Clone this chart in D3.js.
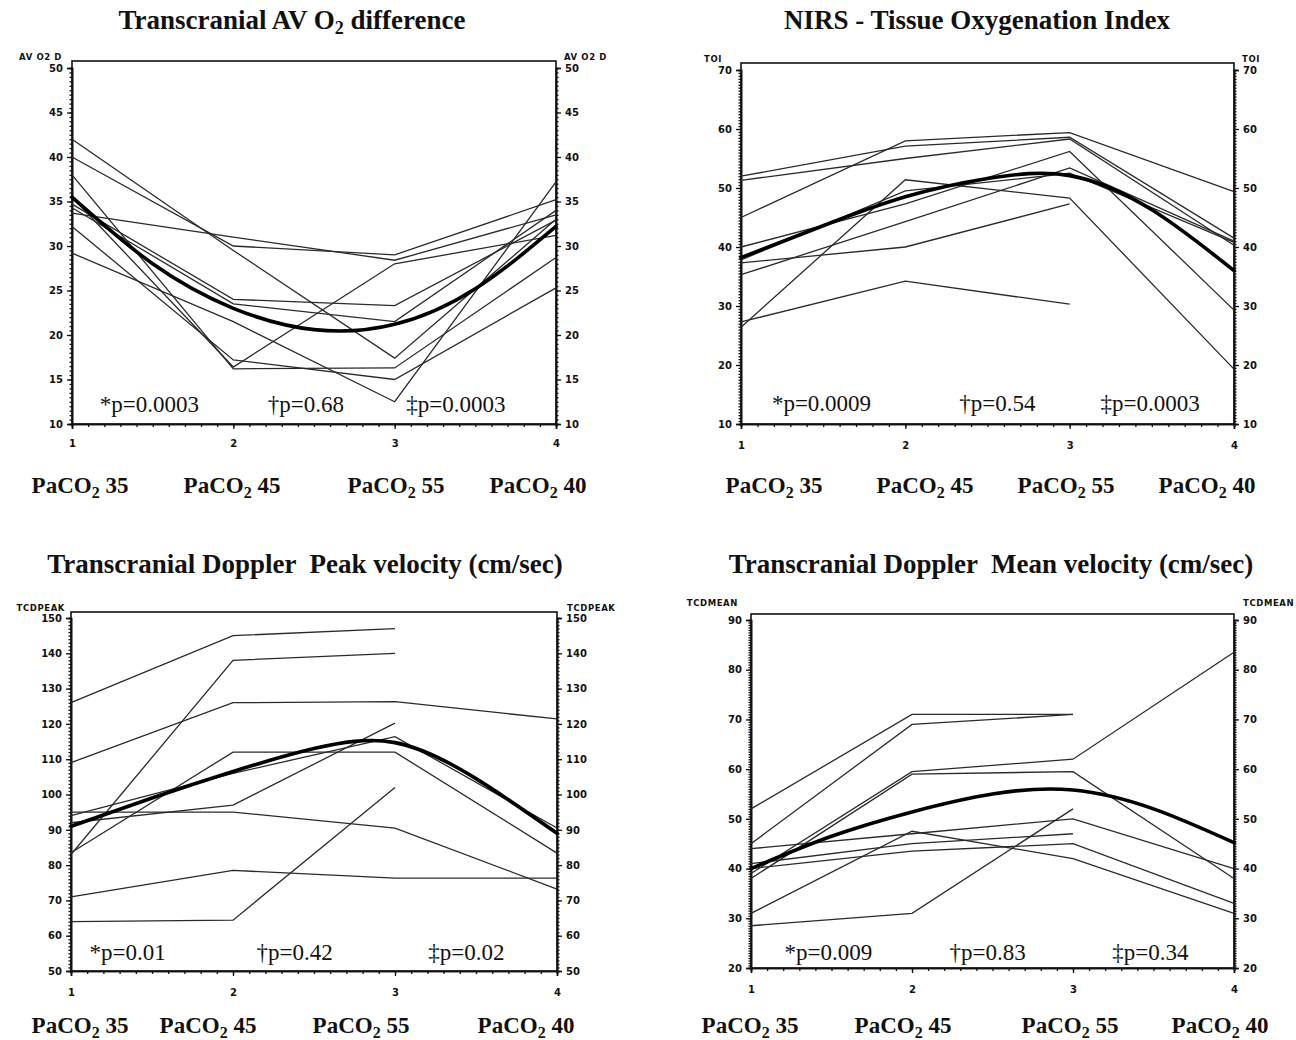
<!DOCTYPE html>
<html>
<head>
<meta charset="utf-8">
<script src="https://cdn.jsdelivr.net/npm/d3@7"></script>
<style>
  body { margin: 0; background: #fff; }
  svg { display: block; }
</style>
</head>
<body>
<svg id="chart" width="1296" height="1040"></svg>
<script>
// ---- shared x categories ----
const positions = [1, 2, 3, 4];
const categoryLabels = ["PaCO2 35", "PaCO2 45", "PaCO2 55", "PaCO2 40"];
const fitPositions = [1, 1.5, 2, 2.5, 3, 3.5, 4];

// ---- Transcranial AV O2 difference ----
const avo2Subjects = [
  [42, 29.5, 17.4, 33],
  [40, 30, 29, 35.2],
  [38, 16.2, 16.3, 28.7],
  [35.5, 16.4, 28, 31.2],
  [34.7, 24, 23.3, 32.9],
  [34.3, 23.5, 21.5, 34],
  [33.7, 31, 28.4, 33.5],
  [32.2, 17.2, 15, 25.3],
  [29.2, 21.5, 12.5, 37.2]
];
const avo2Fit = [35.5, 28, 23, 20.6, 21.2, 25.2, 32.2];
const avo2Ticks = [10, 15, 20, 25, 30, 35, 40, 45, 50];
const avo2PValues = ["*p=0.0003", "\u2020p=0.68", "\u2021p=0.0003"];

// ---- NIRS tissue oxygenation index ----
const toiSubjects = [
  [45, 58, 59.4, 49.4],
  [52, 57.1, 58.6, 41.5],
  [51.3, 55, 58.3, 40.3],
  [40, 47.3, 56.2, 29.3],
  [26.4, 51.4, 48.3, 19.3],
  [27.3, 34.2, 30.3, null],
  [37.3, 40, 47.3, null],
  [35.3, 44.3, 53.4, 41],
  [37.8, 49.5, 52.5, 40.8]
];
const toiFit = [38.2, 43.6, 48.5, 51.6, 52.1, 46.3, 36];
const toiTicks = [10, 20, 30, 40, 50, 60, 70];
const toiPValues = ["*p=0.0009", "\u2020p=0.54", "\u2021p=0.0003"];

// ---- TCD peak velocity ----
const peakSubjects = [
  [126, 145, 147, null],
  [83, 138, 140, null],
  [109, 126, 126.3, 121.4],
  [83.5, 112, 112, 83.4],
  [92, 97, 120.2, null],
  [94, 106, 116.4, 90.5],
  [95, 95, 90.5, 73.2],
  [71, 78.5, 76.3, 76.3],
  [64, 64.4, 102, null]
];
const peakFit = [91, 99, 106.5, 113, 114.7, 104.5, 89];
const peakTicks = [50, 60, 70, 80, 90, 100, 110, 120, 130, 140, 150];
const peakPValues = ["*p=0.01", "\u2020p=0.42", "\u2021p=0.02"];

// ---- TCD mean velocity ----
const meanSubjects = [
  [52, 71, 71, null],
  [45, 69, 71, null],
  [39, 59.5, 62, 83.5],
  [38, 59, 59.5, 38],
  [44, 47, 50, 40],
  [41, 45, 47, null],
  [40, 43.5, 45, 33],
  [31, 47.5, 42, 31],
  [28.5, 31, 52, null]
];
const meanFit = [40, 46.5, 51.4, 55, 55.8, 52, 45.2];
const meanTicks = [20, 30, 40, 50, 60, 70, 80, 90];
const meanPValues = ["*p=0.009", "\u2020p=0.83", "\u2021p=0.34"];

// ---- panel layout ----
const panels = [
  { title: "Transcranial AV O2 difference", titleX: 292, titleY: 29, name: "AV O2 D",
    left: 72, right: 556, bottom: 424, top: 68, frameTop: 61, domain: [10, 50],
    ticks: avo2Ticks, minor: 0.5, subjects: avo2Subjects, fit: avo2Fit, pvals: avo2PValues,
    pX: [1.48, 2.45, 3.38], pY: 412, catX: [80, 232, 396, 538], catY: 493, tickY: 450,
    nameL: 62, nameR: 564, nameY: 60 },
  { title: "NIRS - Tissue Oxygenation Index", titleX: 977, titleY: 29, name: "TOI",
    left: 741, right: 1234, bottom: 424, top: 70, frameTop: 63, domain: [10, 70],
    ticks: toiTicks, minor: 0.5, subjects: toiSubjects, fit: toiFit, pvals: toiPValues,
    pX: [1.49, 2.56, 3.49], pY: 411, catX: [774, 925, 1066, 1207], catY: 493, tickY: 452,
    nameL: 722, nameR: 1242, nameY: 62 },
  { title: "Transcranial Doppler  Peak velocity (cm/sec)", titleX: 305, titleY: 573, name: "TCDPEAK",
    left: 71, right: 557, bottom: 971, top: 618, frameTop: 612, domain: [50, 150],
    ticks: peakTicks, minor: 1, subjects: peakSubjects, fit: peakFit, pvals: peakPValues,
    pX: [1.35, 2.38, 3.44], pY: 960, catX: [80, 208, 361, 526], catY: 1033, tickY: 999,
    nameL: 65, nameR: 567, nameY: 611 },
  { title: "Transcranial Doppler  Mean velocity (cm/sec)", titleX: 991, titleY: 573, name: "TCDMEAN",
    left: 751, right: 1234, bottom: 968, top: 620, frameTop: 614, domain: [20, 90],
    ticks: meanTicks, minor: 0.5, subjects: meanSubjects, fit: meanFit, pvals: meanPValues,
    pX: [1.48, 2.47, 3.48], pY: 960, catX: [750, 903, 1070, 1220], catY: 1033, tickY: 996,
    nameL: 738, nameR: 1243, nameY: 606 }
];

const svg = d3.select("#chart");
const serif = "'Liberation Serif', 'Times New Roman', serif";
const tickFont = "'DejaVu Sans', Arial, sans-serif";

// writes text, setting any "O2" with a subscript 2
function subText(sel, str, size) {
  const drop = Math.round(size * 0.2);
  const parts = str.split(/(O2)/);
  let pending = 0;
  parts.forEach(p => {
    if (p === "O2") {
      sel.append("tspan").attr("dy", pending || null).text("O");
      sel.append("tspan").attr("font-size", Math.round(size * 0.68)).attr("dy", drop).text("2");
      pending = -drop;
    } else if (p.length) {
      sel.append("tspan").attr("dy", pending || null).text(p);
      pending = 0;
    }
  });
}

function range(a, b, step) {
  const out = [];
  for (let v = a; v <= b + 1e-9; v += step) out.push(+v.toFixed(4));
  return out;
}

panels.forEach(p => {
  const g = svg.append("g");
  const x = d3.scaleLinear().domain([1, 4]).range([p.left, p.right]);
  const y = d3.scaleLinear().domain(p.domain).range([p.bottom, p.top]);

  // title
  const t = g.append("text").attr("x", p.titleX).attr("y", p.titleY)
    .attr("text-anchor", "middle").attr("font-family", serif)
    .attr("font-weight", "bold").attr("font-size", 27).attr("fill", "#111")
    .style("white-space", "pre");
  subText(t, p.title, 27);

  // frame
  g.append("rect").attr("x", p.left).attr("y", p.frameTop)
    .attr("width", p.right - p.left).attr("height", p.bottom - p.frameTop)
    .attr("fill", "none").attr("stroke", "#111").attr("stroke-width", 1.6);

  const minorVals = range(p.domain[0], p.domain[1], p.minor);

  // left axis
  const leftMinor = g.append("g").attr("transform", `translate(${p.left},0)`)
    .call(d3.axisLeft(y).tickValues(minorVals).tickSize(2.5).tickFormat(""));
  const leftMajor = g.append("g").attr("transform", `translate(${p.left},0)`)
    .call(d3.axisLeft(y).tickValues(p.ticks).tickSize(5).tickPadding(4));
  // right axis
  const rightMinor = g.append("g").attr("transform", `translate(${p.right},0)`)
    .call(d3.axisRight(y).tickValues(minorVals).tickSize(2.5).tickFormat(""));
  const rightMajor = g.append("g").attr("transform", `translate(${p.right},0)`)
    .call(d3.axisRight(y).tickValues(p.ticks).tickSize(5).tickPadding(4));
  // bottom axis
  const bottomMinor = g.append("g").attr("transform", `translate(0,${p.bottom})`)
    .call(d3.axisBottom(x).tickValues(range(1, 4, 0.1)).tickSize(3).tickFormat(""));
  const bottomMajor = g.append("g").attr("transform", `translate(0,${p.bottom})`)
    .call(d3.axisBottom(x).tickValues(positions).tickSize(5).tickFormat(d3.format("d")));

  [leftMinor, leftMajor, rightMinor, rightMajor, bottomMinor, bottomMajor].forEach(a => {
    a.select(".domain").attr("stroke", "#111").attr("stroke-width", 1.6);
    a.selectAll(".tick line").attr("stroke", "#111").attr("stroke-width", 1.3);
    a.selectAll(".tick text").attr("font-family", tickFont).attr("font-weight", "bold")
      .attr("font-size", 10).attr("fill", "#111");
  });
  bottomMajor.selectAll(".tick text").attr("y", null).attr("dy", null)
    .attr("transform", `translate(0,${p.tickY - p.bottom - 3})`);

  // axis names
  [[p.nameL, "end"], [p.nameR, "start"]].forEach(([nx, anchor]) => {
    g.append("text").attr("x", nx).attr("y", p.nameY).attr("text-anchor", anchor)
      .attr("font-family", tickFont).attr("font-weight", "bold").attr("font-size", 8.5)
      .attr("letter-spacing", 0.6).attr("fill", "#111").style("white-space", "pre")
      .text(p.name);
  });

  // individual subjects
  const line = d3.line().defined(d => d[1] != null).x(d => x(d[0])).y(d => y(d[1]));
  g.append("g").selectAll("path").data(p.subjects).join("path")
    .attr("d", s => line(s.map((v, i) => [positions[i], v])))
    .attr("fill", "none").attr("stroke", "#2a2a2a").attr("stroke-width", 1.3);

  // fitted group curve
  const curve = d3.line().curve(d3.curveNatural).x(d => x(d[0])).y(d => y(d[1]));
  g.append("path").attr("d", curve(p.fit.map((v, i) => [fitPositions[i], v])))
    .attr("fill", "none").attr("stroke", "#000").attr("stroke-width", 3.6)
    .attr("stroke-linecap", "round");

  // p-values
  g.append("g").selectAll("text").data(p.pvals).join("text")
    .attr("x", (d, i) => x(p.pX[i])).attr("y", p.pY).attr("text-anchor", "middle")
    .attr("font-family", serif).attr("font-size", 23).attr("fill", "#111").text(d => d);

  // PaCO2 category labels
  categoryLabels.forEach((c, i) => {
    const ct = g.append("text").attr("x", p.catX[i]).attr("y", p.catY)
      .attr("text-anchor", "middle").attr("font-family", serif)
      .attr("font-weight", "bold").attr("font-size", 23).attr("fill", "#111");
    subText(ct, c, 23);
  });
});
</script>
</body>
</html>
